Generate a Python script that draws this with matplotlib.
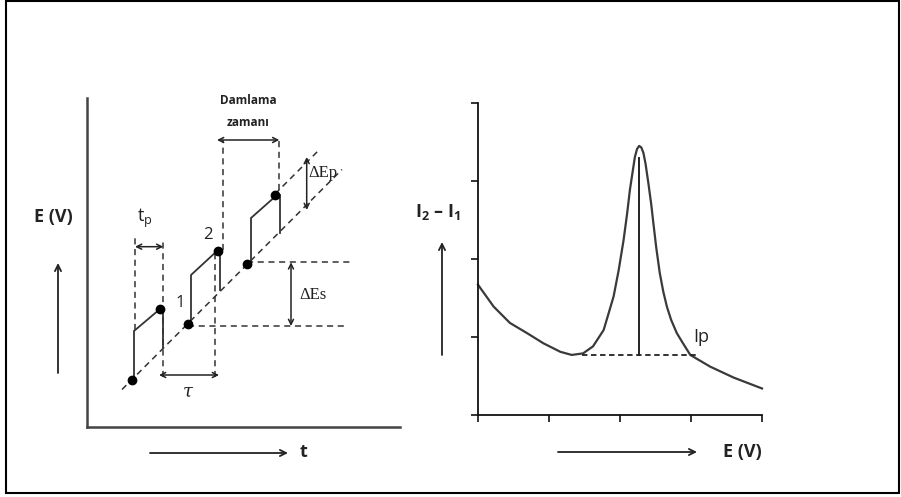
import matplotlib
matplotlib.use("Agg")
import matplotlib.pyplot as plt
from matplotlib.patches import Rectangle

plt.rcParams["font.family"] = ["Open Sans", "DejaVu Sans"]
plt.rcParams["mathtext.fontset"] = "custom"
plt.rcParams["mathtext.rm"] = "Open Sans"
plt.rcParams["mathtext.bf"] = "Open Sans:bold"

INK = "#222222"
LINE = "#333333"

# ── right panel: differential pulse curve (E vs I2 - I1) ──────────────────────
curve_E = [0.0, 0.22, 0.45, 0.69, 0.92, 1.16, 1.32, 1.48, 1.62, 1.77, 1.91,
           1.98, 2.05, 2.10, 2.14, 2.18, 2.21, 2.24, 2.27, 2.30, 2.33, 2.36,
           2.40, 2.44, 2.47, 2.51, 2.56, 2.61, 2.66, 2.72, 2.80, 2.88, 2.99,
           3.27, 3.60, 4.0]
curve_I = [1.67, 1.39, 1.18, 1.05, 0.92, 0.81, 0.77, 0.79, 0.88, 1.09, 1.52,
           1.85, 2.24, 2.58, 2.89, 3.13, 3.31, 3.41, 3.45, 3.43, 3.36, 3.22,
           2.97, 2.70, 2.46, 2.15, 1.82, 1.58, 1.39, 1.22, 1.05, 0.93, 0.77,
           0.62, 0.48, 0.34]
peak_E, peak_top, base_I = 2.27, 3.30, 0.77
base_E = [1.47, 3.09]
ip_pos = (3.03, 1.0)

# ── left panel: staircase potential waveform (axes units = pixels) ────────────
stair_x = [47, 47, 73, 76, 76]
pulse_shift = [0, 57, 117]         # start of each pulse along the ramp
pulse_rise = [[49, 96, 118, 118, 79],
              [105, 152, 176, 176, 137],
              [165, 209, 232, 232, 194]]
dot_x = [45, 73, 101, 131, 160, 188]
dot_y = [47, 118, 103, 176, 163, 232]
base_line = ([35, 255], [37.5, 257.5])
top_line = ([188, 233], [233, 278])
hlines = [(101, 260, 101), (160, 263, 164.7)]      # (x0, x1, y)
vlines = [(48, 97, 189), (76.3, 50, 189), (128, 50, 174),
          (135.7, 177, 287), (192.3, 237, 287)]    # (x, y0, y1)
harrows = [(48, 76.3, 180.3), (72, 132, 52), (130, 192.3, 287)]
varrows = [(204, 164.7, 101), (219.7, 270, 217)]

fig = plt.figure(figsize=(9.01, 4.97), dpi=100)

# left axes: 87..400 px, 98..427 px
axL = fig.add_axes([87 / 901, 1 - 427 / 497, 313 / 901, 329 / 497])
axL.set_xlim(0, 313)
axL.set_ylim(0, 329)
for s in ["top", "right"]:
    axL.spines[s].set_visible(False)
for s in ["left", "bottom"]:
    axL.spines[s].set_color("#444444")
    axL.spines[s].set_linewidth(1.8)
axL.set_xticks([])
axL.set_yticks([])
axL.patch.set_alpha(0)

dash = (0, (4, 3))
axL.plot(*base_line, color=LINE, lw=1.1, ls=dash)
axL.plot(*top_line, color=LINE, lw=1.1, ls=dash)
for x0, x1, y in hlines:
    axL.plot([x0, x1], [y, y], color=LINE, lw=1.1, ls=dash)
for x, y0, y1 in vlines:
    axL.plot([x, x], [y0, y1], color=LINE, lw=1.1, ls=dash)

for shift, ys in zip(pulse_shift, pulse_rise):
    xs = [x + shift for x in stair_x]
    axL.plot(xs, ys, color=LINE, lw=1.3, solid_joinstyle="miter")
axL.plot(dot_x, dot_y, "o", color="black", ms=6)

arr = dict(arrowstyle="<->", color=INK, lw=1.1, mutation_scale=9,
           shrinkA=0, shrinkB=0)
for x0, x1, y in harrows:
    axL.annotate("", xy=(x1, y), xytext=(x0, y), arrowprops=arr)
for x, y0, y1 in varrows:
    axL.annotate("", xy=(x, y1), xytext=(x, y0), arrowprops=arr)

axL.text(58, 209, r"t$_\mathregular{p}$", ha="center", va="center",
         fontsize=13, color=INK)
axL.text(93, 124, "1", ha="center", va="center", fontsize=12, color=INK)
axL.text(121, 192, "2", ha="center", va="center", fontsize=12, color=INK)
axL.text(101, 35, "τ", ha="center", va="center", fontsize=13, color=INK,
         family="DejaVu Serif", style="italic")
axL.text(161, 326, "Damlama", ha="center", va="center", fontsize=8.5,
         color=INK, fontweight="bold")
axL.text(161, 305, "zamanı", ha="center", va="center", fontsize=8.5,
         color=INK, fontweight="bold")
axL.text(226, 132, "ΔEs", ha="center", va="center", fontsize=12,
         color=INK, family="Liberation Serif")
axL.text(236, 254, "ΔEp", ha="center", va="center", fontsize=12,
         color=INK, family="Liberation Serif")

# right axes: 478..762 px, 103..415 px
axR = fig.add_axes([478 / 901, 1 - 415 / 497, 284 / 901, 312 / 497])
axR.set_xlim(0, 4)
axR.set_ylim(0, 4)
for s in ["top", "right"]:
    axR.spines[s].set_visible(False)
for s in ["left", "bottom"]:
    axR.spines[s].set_linewidth(1.3)
    axR.spines[s].set_color("#111111")
axR.set_xticks(range(5))
axR.set_yticks(range(5))
axR.tick_params(length=5, width=1.2, labelbottom=False, labelleft=False,
                color="#111111")
axR.patch.set_alpha(0)
axR.plot(curve_E, curve_I, color="#3a3a3a", lw=1.6, clip_on=False,
         solid_joinstyle="round")
axR.plot([peak_E, peak_E], [base_I, peak_top], color=INK, lw=1.4)
axR.plot(base_E, [base_I, base_I], color=INK, lw=1.3, ls=(0, (3, 2)))
axR.text(*ip_pos, "Ip", ha="left", va="center", fontsize=13, color=INK)

# overlay in figure pixels: frame, axis arrows and labels
ov = fig.add_axes([0, 0, 1, 1])
ov.set_xlim(0, 901)
ov.set_ylim(497, 0)
ov.axis("off")
ov.patch.set_alpha(0)
ov.add_patch(Rectangle((6, 1), 893, 492, fill=False, ec="black", lw=1.5))

up = dict(arrowstyle="->", color=INK, lw=1.3, mutation_scale=11,
          shrinkA=0, shrinkB=0)
ov.annotate("", xy=(58, 263), xytext=(58, 373), arrowprops=up)
ov.annotate("", xy=(442, 242), xytext=(442, 355), arrowprops=up)
ov.annotate("", xy=(288, 453), xytext=(150, 453), arrowprops=up)
ov.annotate("", xy=(697, 452), xytext=(558, 452), arrowprops=up)

lab = dict(ha="center", va="center", fontsize=13, fontweight="bold",
           color=INK)
ov.text(53, 217, "E (V)", **lab)
ov.text(303, 452, "t", **lab)
ov.text(742, 452, "E (V)", **lab)
ov.text(438, 212, r"$\mathbf{I_2}$ – $\mathbf{I_1}$", **lab)

fig.savefig("out.png", dpi=100)
